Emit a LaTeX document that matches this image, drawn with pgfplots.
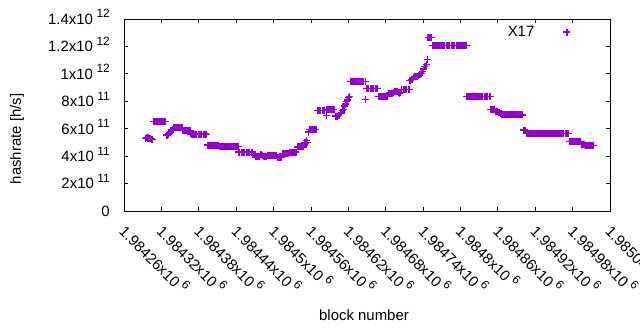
\documentclass[border=0pt]{standalone}
\usepackage{fontspec}
\setmainfont{Liberation Sans}
\usepackage{pgfplots}
\pgfplotsset{compat=1.18}
\definecolor{gpviolet}{RGB}{148,0,211}
\newcommand{\sx}[1]{\hspace{3.5bp}\raisebox{6.5bp}{\fontsize{12}{12}\selectfont #1}}
\newcommand{\mf}{\fontsize{15}{18}\selectfont}
\begin{document}
\begin{tikzpicture}
\useasboundingbox (-124bp,-119bp) rectangle (516bp,211bp);
\begin{axis}[
  scale only axis, width=486bp, height=192bp,
  xmin=260, xmax=1040, ymin=0, ymax=14,
  axis line style={line width=0.9bp, black},
  tick align=inside, xtick pos=both, ytick pos=both,
  major tick length=4.5bp,
  tick style={line width=0.8bp, black},
  xtick={260,320,380,440,500,560,620,680,740,800,860,920,980,1040},
  xticklabels={1.98426x10\sx{6},1.98432x10\sx{6},1.98438x10\sx{6},1.98444x10\sx{6},1.9845x10\sx{6},1.98456x10\sx{6},1.98462x10\sx{6},1.98468x10\sx{6},1.98474x10\sx{6},1.9848x10\sx{6},1.98486x10\sx{6},1.98492x10\sx{6},1.98498x10\sx{6},1.98504x10\sx{6}},
  ytick={0,2,4,6,8,10,12,14},
  yticklabels={0,2x10\sx{11},4x10\sx{11},6x10\sx{11},8x10\sx{11},1x10\sx{12},1.2x10\sx{12},1.4x10\sx{12}},
  tick label style={font=\mf},
  xticklabel style={inner sep=0pt, xshift=5bp, yshift=-11bp, rotate=-45, anchor=north west},
  yticklabel style={inner sep=0pt, anchor=base east, xshift=-14bp, yshift=-5.4bp},
  xlabel={block number}, ylabel={hashrate [h/s]},
  every axis x label/.style={at={(axis description cs:0.5,0)}, anchor=center, xshift=-3bp, yshift=-104bp, font=\mf},
  every axis y label/.style={at={(axis description cs:0,0)}, xshift=-107bp, yshift=72bp, anchor=center, rotate=90, font=\mf},
  legend plot pos=right,
  legend style={draw=none, fill=none, font=\mf, inner sep=0pt, at={(axis description cs:0.919,0.932)}, anchor=east},
  legend image code/.code={\path (0bp,0bp); \draw[#1, mark repeat=1] plot coordinates {(30bp,0bp)};},
]
\addplot[only marks, mark=+, mark size=3.5bp, color=gpviolet, line width=1.2bp] coordinates {
(294,5.30)(296,5.33)(297,5.33)(298,5.32)(299,5.33)(300,5.32)(301,5.30)(302,5.31)(303,5.28)(304,5.25)(305,5.22)
(307,6.54)(309,6.54)(311,6.54)(313,6.54)(315,6.54)(317,6.54)(319,6.54)(321,6.54)(323,6.54)(325,6.54)(327,6.54)
(328,5.54)(329,5.52)(330,5.56)(331,5.60)(332,5.66)(333,5.70)(334,5.76)(335,5.82)(336,5.86)(337,5.90)(338,5.95)
(339,6.08)(341,6.10)(343,6.10)(345,6.10)(347,6.10)(349,6.10)(351,6.09)(353,6.09)
(354,5.86)(356,5.85)(358,5.85)(360,5.85)(362,5.85)(364,5.85)(366,5.84)
(367,5.62)(369,5.61)(371,5.61)(373,5.61)(375,5.61)(377,5.61)(379,5.61)(381,5.61)(383,5.61)(385,5.61)(387,5.61)(389,5.61)(391,5.61)(392,5.60)
(394,4.81)(396,4.81)(398,4.81)(400,4.81)(402,4.81)(404,4.81)(406,4.81)(408,4.81)(410,4.81)(412,4.80)
(413,4.70)(415,4.70)(417,4.70)(419,4.70)(421,4.70)(423,4.70)(425,4.70)(427,4.70)(429,4.70)(431,4.70)(433,4.70)(435,4.70)(437,4.70)(439,4.70)(441,4.70)(443,4.70)
(444,4.30)(446,4.30)(448,4.30)(450,4.30)(452,4.30)(454,4.30)(456,4.30)(458,4.30)(460,4.30)(462,4.30)(464,4.30)(466,4.28)
(467,4.13)(469,4.13)(471,4.12)(472,3.99)(474,3.98)(476,3.99)(478,4.00)(480,4.10)(482,4.08)(484,3.97)(486,3.97)(488,3.98)
(490,4.05)(492,4.05)(494,4.05)(496,4.05)(498,4.05)(500,4.05)(502,4.05)(504,4.05)
(506,3.88)(508,3.87)(510,3.88)(512,3.90)
(514,4.16)(516,4.16)(518,4.16)(520,4.16)(522,4.16)(524,4.16)
(526,4.30)(528,4.30)(530,4.30)(532,4.30)(534,4.30)(536,4.30)
(538,4.67)(540,4.67)(542,4.67)(544,4.67)(546,4.67)(548,4.67)
(550,4.96)(552,4.96)(553,5.12)(554,5.00)(556,5.76)
(558,5.93)(560,5.93)(562,5.93)(564,5.93)(566,5.93)(568,5.93)
(570,7.34)(572,7.34)(574,7.34)(576,7.34)(578,7.34)(580,7.34)(582,7.34)
(585,6.97)
(585,7.40)(587,7.40)(589,7.40)(591,7.40)(593,7.40)(595,7.40)(597,7.40)
(599,6.92)(601,6.92)(603,6.92)(605,6.95)(607,7.10)(609,7.15)(611,7.35)(613,7.40)
(614,7.65)(615,7.75)(616,7.85)(617,8.00)(618,8.10)(619,8.15)(620,8.25)(621,8.30)(622,8.32)
(623,9.43)(625,9.43)(627,9.43)(629,9.43)(631,9.43)(633,9.43)(635,9.43)(637,9.43)(639,9.43)(641,9.43)(643,9.43)(645,9.43)(647,9.43)
(648,8.15)
(649,8.95)(651,8.95)(653,8.95)(655,8.95)(657,8.95)(659,8.95)(661,8.95)(663,8.95)(665,8.95)(667,8.95)
(668,8.33)(670,8.33)(672,8.33)(674,8.33)(676,8.33)(678,8.33)(680,8.33)(682,8.33)
(684,8.58)(686,8.60)(688,8.60)(690,8.60)(692,8.62)
(694,8.70)(696,8.70)(698,8.68)(700,8.66)(702,8.60)(704,8.62)
(706,8.88)(708,8.88)(710,8.88)(712,8.88)(714,8.88)(716,8.88)(718,8.88)
(719,9.50)(721,9.58)(723,9.62)(725,9.70)(727,9.78)(729,9.80)(731,9.82)(733,9.85)(735,9.92)(737,10.00)(739,10.16)(741,10.35)(743,10.52)(745,10.70)(747,11.06)
(748,12.64)(750,12.66)(752,12.66)(754,12.64)
(755,12.05)(757,12.05)(759,12.05)(761,12.05)(763,12.05)(765,12.05)(767,12.05)(769,12.05)(771,12.05)(773,12.05)(775,12.05)(777,12.05)(779,12.05)(781,12.05)
(783,12.05)(785,12.05)(787,12.05)(789,12.05)(791,12.05)(793,12.05)(795,12.05)(797,12.05)(799,12.05)(801,12.05)(803,12.05)(805,12.05)(807,12.05)(809,12.05)
(810,8.33)(812,8.33)(814,8.33)(816,8.33)(818,8.33)(820,8.33)(822,8.33)(824,8.33)(826,8.33)(828,8.33)
(830,8.33)(832,8.33)(834,8.33)(836,8.33)(838,8.33)(840,8.33)(842,8.33)(844,8.33)(846,8.33)(848,8.33)
(849,7.40)(851,7.40)(853,7.40)(855,7.38)(857,7.25)(859,7.25)(861,7.15)(863,7.15)(865,7.10)
(866,7.00)(868,7.00)(870,7.00)(872,7.00)(874,7.00)(876,7.00)(878,7.00)(880,7.00)(882,7.00)
(884,7.00)(886,7.00)(888,7.00)(890,7.00)(892,7.00)(894,7.00)(896,7.00)(898,7.00)(900,7.00)
(901,5.90)(903,5.90)(905,5.88)
(906,5.67)(908,5.67)(910,5.67)(912,5.67)(914,5.67)(916,5.67)(918,5.67)(920,5.67)(922,5.67)(924,5.67)(926,5.67)(928,5.67)
(930,5.67)(932,5.67)(934,5.67)(936,5.67)(938,5.67)(940,5.67)(942,5.67)(944,5.67)(946,5.67)(948,5.67)(950,5.67)(952,5.67)
(954,5.67)(956,5.67)(958,5.67)(960,5.67)(962,5.67)(964,5.67)(966,5.67)(968,5.67)(970,5.67)(972,5.67)(974,5.67)
(975,5.08)(977,5.08)(979,5.08)(981,5.08)(983,5.08)(985,5.08)(987,5.08)(989,5.08)(991,5.08)(993,5.08)
(995,4.82)(997,4.82)(999,4.82)(1001,4.78)(1003,4.78)(1005,4.78)(1007,4.78)(1009,4.78)(1011,4.78)(1013,4.78)
};
\addlegendentry{X17}
\end{axis}
\end{tikzpicture}
\end{document}
